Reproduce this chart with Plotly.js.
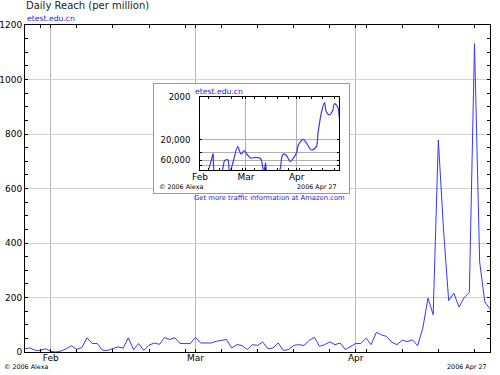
<!DOCTYPE html>
<html>
<head>
<meta charset="utf-8">
<script src="https://cdn.plot.ly/plotly-3.0.1.min.js"></script>
<style>html,body{margin:0;padding:0;background:#fff;}#chart{width:500px;height:375px;}</style>
</head>
<body>
<div id="chart"></div>
<script>
// ---- Daily reach (per million), one value per day from 2006-01-27 ----
var reachStart = '2006-01-27';
var reachJan = [12, 15, 6, 6, 12];
var reachFeb = [2, 0, 4, 12, 23, 10, 16, 52, 31, 31, 6, 6, 12, 19, 14, 52, 9, 31, 6, 25, 33, 28, 53, 46, 52, 31, 31, 31];
var reachMar = [54, 33, 33, 33, 39, 43, 46, 15, 27, 24, 9, 27, 24, 37, 12, 15, 33, 6, 9, 24, 27, 24, 42, 54, 21, 27, 37, 27, 33, 9, 21];
var reachApr = [31, 31, 51, 27, 72, 63, 57, 36, 27, 43, 38, 45, 23, 88, 198, 137, 778, 450, 189, 216, 165, 200, 218, 1132, 330, 184, 158];

// ---- Traffic rank (inset) ----
var rankDates = ['2006-02-01','2006-02-05','2006-02-08','2006-02-09','2006-02-10','2006-02-14','2006-02-16','2006-02-18','2006-02-19',
  '2006-02-21','2006-02-24','2006-02-26','2006-02-28','2006-03-02','2006-03-04','2006-03-07','2006-03-10','2006-03-12','2006-03-13',
  '2006-03-14','2006-03-21','2006-03-23','2006-03-24','2006-03-26','2006-03-28','2006-03-30','2006-04-01','2006-04-02','2006-04-05',
  '2006-04-07','2006-04-10','2006-04-13','2006-04-14','2006-04-16','2006-04-18','2006-04-19','2006-04-21','2006-04-23','2006-04-24',
  '2006-04-26','2006-04-27'];
var rankValues = [120000,120000,59000,41500,120000,120000,62000,59000,120000,
  71000,29000,43000,36000,45500,54000,51500,55000,120000,69000,
  120000,120000,50000,43000,48000,65000,54000,40000,26600,19600,
  24000,34800,29000,14200,4800,2740,4400,5300,4100,2900,
  3400,6300];

// ---- tick labels ----
var monthTicks = ['2006-02-01','2006-03-01','2006-04-01'];
var monthLabels = ['Feb','Mar','Apr'];
var reachTicks = [0,200,400,600,800,1000,1200];
var rankTicks = [2000,20000,40000,60000,80000];
var rankLabels = ['2000','20,000','','60,000',''];

var reachValues = reachJan.concat(reachFeb, reachMar, reachApr);
var reachDates = [];
(function(){
  var d0 = new Date(reachStart + 'T00:00:00Z');
  for (var i = 0; i < reachValues.length; i++) {
    var d = new Date(d0.getTime() + i*86400000);
    reachDates.push(d.toISOString().slice(0,10));
  }
})();

var BLUE = '#3636ff';
var TXTBLUE = '#2020ee';

var traces = [
  {x: reachDates, y: reachValues, type:'scatter', mode:'lines', line:{color:BLUE, width:1}, xaxis:'x', yaxis:'y', hoverinfo:'skip'},
  {x: [], y: [], type:'scatter', mode:'lines', xaxis:'x2', yaxis:'y2', hoverinfo:'skip'},
  {x: rankDates, y: rankValues, type:'scatter', mode:'lines', line:{color:BLUE, width:1.2, shape:'spline', smoothing:0.8}, xaxis:'x3', yaxis:'y3', hoverinfo:'skip'}
];

function px(x){ return (x-25)/465; }
function py(y){ return (352-y)/327; }

var layout = {
  width: 500, height: 375,
  margin: {l:25, r:10, t:25, b:23, pad:0},
  paper_bgcolor:'#ffffff', plot_bgcolor:'#ffffff',
  showlegend:false,
  font:{family:'DejaVu Sans, Verdana, sans-serif', size:9, color:'#000'},
  xaxis: {
    type:'date', domain:[0,1], anchor:'y', range:['2006-01-27','2006-04-27'],
    tickmode:'array', tickvals:monthTicks, ticktext:monthLabels,
    showgrid:true, gridcolor:'#b8b8b8', gridwidth:1,
    ticks:'inside', ticklen:3, tickcolor:'#000', tickwidth:1,
    showline:true, linecolor:'#000', linewidth:1, mirror:'ticks', zeroline:false,
    tickfont:{size:9, color:'#000'}, ticklabelstandoff:-3,
    minor:{ticks:'inside', ticklen:3, tickcolor:'#000', dtick:604800000, tick0:'2006-01-30', showgrid:false}
  },
  yaxis: {
    domain:[0,1], anchor:'x', range:[0,1200],
    tickmode:'array', tickvals:reachTicks,
    showgrid:true, gridcolor:'#d0d0d0', gridwidth:1,
    ticks:'inside', ticklen:3, tickcolor:'#000',
    showline:true, linecolor:'#000', linewidth:1, mirror:'ticks', zeroline:false,
    tickfont:{size:9, color:'#000'},
    minor:{ticks:'inside', ticklen:3, tickcolor:'#000', dtick:50, tick0:0, showgrid:false}
  },
  xaxis2: {domain:[px(154), px(349)], anchor:'y2', range:[0,1], showline:true, mirror:true, linecolor:'#9a9a9a', linewidth:1,
    showgrid:false, zeroline:false, showticklabels:false, ticks:''},
  yaxis2: {domain:[py(193), py(84)], anchor:'x2', range:[0,1], showline:true, mirror:true, linecolor:'#9a9a9a', linewidth:1,
    showgrid:false, zeroline:false, showticklabels:false, ticks:''},
  xaxis3: {
    type:'date', domain:[px(200), px(339.3)], anchor:'y3', range:['2006-02-01','2006-04-27'],
    tickmode:'array', tickvals:monthTicks, ticktext:monthLabels,
    showgrid:true, gridcolor:'#b0b0b0', ticks:'inside', ticklen:2, tickcolor:'#000',
    showline:true, linecolor:'#000', linewidth:1, mirror:'ticks', zeroline:false,
    tickfont:{size:9, color:'#000'}, ticklabelstandoff:-2,
    minor:{ticks:'inside', ticklen:2, tickcolor:'#000', dtick:604800000, tick0:'2006-01-30', showgrid:false}
  },
  yaxis3: {
    type:'log', domain:[py(170), py(96.7)], anchor:'x3', range:[5.008, 3.299],
    tickmode:'array', tickvals:rankTicks, ticktext:rankLabels,
    showgrid:true, gridcolor:'#b0b0b0', ticks:'inside', ticklen:2, tickcolor:'#000',
    showline:true, linecolor:'#000', linewidth:1, mirror:'ticks', zeroline:false,
    tickfont:{size:8.5, color:'#000'}, ticklabelstandoff:7
  },
  annotations: [
    {text:'Daily Reach (per million)', xref:'paper', yref:'paper', x:px(24), y:py(6), xanchor:'left', yanchor:'middle', showarrow:false, font:{size:10, color:'#222'}},
    {text:'etest.edu.cn', xref:'paper', yref:'paper', x:px(25), y:py(18.5), xanchor:'left', yanchor:'middle', showarrow:false, font:{size:7.7, color:TXTBLUE}},
    {text:'© 2006 Alexa', xref:'paper', yref:'paper', x:px(2), y:py(367.3), xanchor:'left', yanchor:'middle', showarrow:false, font:{size:6.4, color:'#000'}},
    {text:'2006 Apr 27', xref:'paper', yref:'paper', x:px(489), y:py(367.3), xanchor:'right', yanchor:'middle', showarrow:false, font:{size:6.4, color:'#000'}},
    {text:'etest.edu.cn', xref:'paper', yref:'paper', x:px(193), y:py(91.7), xanchor:'left', yanchor:'middle', showarrow:false, font:{size:7.7, color:TXTBLUE}},
    {text:'© 2006 Alexa', xref:'paper', yref:'paper', x:px(157), y:py(186.7), xanchor:'left', yanchor:'middle', showarrow:false, font:{size:6.4, color:'#000'}},
    {text:'2006 Apr 27', xref:'paper', yref:'paper', x:px(338.5), y:py(186.7), xanchor:'right', yanchor:'middle', showarrow:false, font:{size:6.4, color:'#000'}},
    {text:'Get more traffic information at Amazon.com', xref:'paper', yref:'paper', x:px(269.5), y:py(197.5), xanchor:'center', yanchor:'middle', showarrow:false, font:{size:6.8, color:TXTBLUE}}
  ]
};

Plotly.newPlot('chart', traces, layout, {staticPlot:true, displayModeBar:false});
</script>
</body>
</html>
